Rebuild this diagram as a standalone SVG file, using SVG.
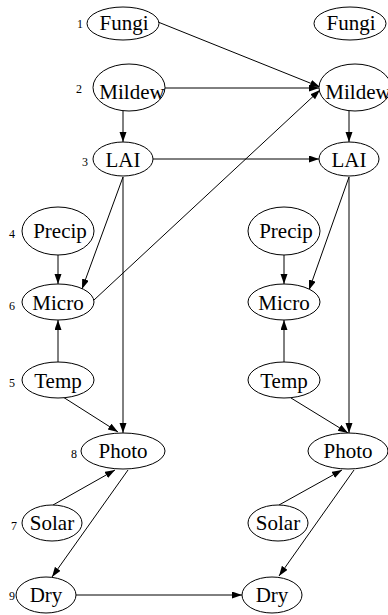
<svg xmlns="http://www.w3.org/2000/svg" width="388" height="615" viewBox="0 0 388 615">
<style>
.n ellipse{fill:#fff;stroke:#000;stroke-width:1}
.n text{font-family:"Liberation Serif","Times New Roman",serif;font-size:21px;fill:#000;text-anchor:middle}
.lbl{font-family:"Liberation Serif","Times New Roman",serif;font-size:12px;fill:#000;text-anchor:middle}
#edges line{stroke:#000;stroke-width:1;fill:none;marker-end:url(#ah)}
</style>
<defs>
<marker id="ah" markerUnits="userSpaceOnUse" markerWidth="10" markerHeight="8" refX="10" refY="3.5" orient="auto">
<path d="M0,0 L10,3.5 L0,7 z" fill="#000"/>
</marker>
</defs>
<rect width="388" height="615" fill="#fff"/>
<g id="edges">
<line x1="158" y1="22" x2="320" y2="87"/>
<line x1="165" y1="88" x2="319" y2="88"/>
<line x1="94" y1="300" x2="320" y2="90"/>
<line x1="123" y1="111" x2="123" y2="142"/>
<line x1="153" y1="159" x2="319" y2="159"/>
<line x1="123" y1="177" x2="82" y2="289"/>
<line x1="123" y1="177" x2="123" y2="433"/>
<line x1="58" y1="255" x2="58" y2="284"/>
<line x1="58" y1="362" x2="58" y2="320"/>
<line x1="63" y1="397" x2="118" y2="432"/>
<line x1="53" y1="505" x2="115" y2="470"/>
<line x1="128" y1="470" x2="52" y2="577"/>
<line x1="76" y1="595" x2="242" y2="595"/>
<line x1="349" y1="111" x2="349" y2="142"/>
<line x1="349" y1="177" x2="309" y2="290"/>
<line x1="349" y1="177" x2="349" y2="433"/>
<line x1="284" y1="255" x2="284" y2="284"/>
<line x1="284" y1="362" x2="284" y2="320"/>
<line x1="291" y1="398" x2="348" y2="433"/>
<line x1="279" y1="505" x2="342" y2="470"/>
<line x1="354" y1="470" x2="279" y2="576"/>
</g>
<g id="fungi1" class="n"><ellipse cx="123" cy="23.5" rx="36" ry="16.5"/><text x="124" y="30">Fungi</text></g>
<g id="mildew1" class="n"><ellipse cx="129" cy="87.5" rx="36" ry="23.5"/><text x="132" y="99">Mildew</text></g>
<g id="lai1" class="n"><ellipse cx="123" cy="159" rx="30" ry="17"/><text x="123" y="167">LAI</text></g>
<g id="precip1" class="n"><ellipse cx="58" cy="231" rx="36" ry="24"/><text x="60" y="238">Precip</text></g>
<g id="micro1" class="n"><ellipse cx="58" cy="302" rx="36" ry="18"/><text x="58" y="310">Micro</text></g>
<g id="temp1" class="n"><ellipse cx="58" cy="380" rx="36" ry="18"/><text x="58" y="388">Temp</text></g>
<g id="photo1" class="n"><ellipse cx="123" cy="451" rx="42" ry="18"/><text x="123" y="458">Photo</text></g>
<g id="solar1" class="n"><ellipse cx="52" cy="523" rx="30" ry="18"/><text x="52" y="530">Solar</text></g>
<g id="dry1" class="n"><ellipse cx="46" cy="595" rx="30" ry="18"/><text x="46" y="602">Dry</text></g>
<g id="fungi2" class="n"><ellipse cx="350" cy="23.5" rx="36" ry="16.5"/><text x="351" y="30">Fungi</text></g>
<g id="mildew2" class="n"><ellipse cx="355" cy="87.5" rx="36" ry="23.5"/><text x="358" y="99">Mildew</text></g>
<g id="lai2" class="n"><ellipse cx="349" cy="159" rx="30" ry="17"/><text x="349" y="167">LAI</text></g>
<g id="precip2" class="n"><ellipse cx="284" cy="231" rx="36" ry="24"/><text x="286" y="238">Precip</text></g>
<g id="micro2" class="n"><ellipse cx="284" cy="302" rx="36" ry="18"/><text x="284" y="310">Micro</text></g>
<g id="temp2" class="n"><ellipse cx="284" cy="380" rx="36" ry="18"/><text x="284" y="388">Temp</text></g>
<g id="photo2" class="n"><ellipse cx="348" cy="451" rx="40" ry="18"/><text x="348" y="458">Photo</text></g>
<g id="solar2" class="n"><ellipse cx="278" cy="523" rx="30" ry="18"/><text x="278" y="530">Solar</text></g>
<g id="dry2" class="n"><ellipse cx="272" cy="595" rx="30" ry="18"/><text x="272" y="602">Dry</text></g>
<g id="labels">
<text class="lbl" x="80" y="28">1</text>
<text class="lbl" x="79" y="93">2</text>
<text class="lbl" x="85" y="166">3</text>
<text class="lbl" x="12" y="238">4</text>
<text class="lbl" x="12" y="310">6</text>
<text class="lbl" x="12" y="387">5</text>
<text class="lbl" x="74" y="458">8</text>
<text class="lbl" x="14" y="530">7</text>
<text class="lbl" x="12" y="600">9</text>
</g>
</svg>
